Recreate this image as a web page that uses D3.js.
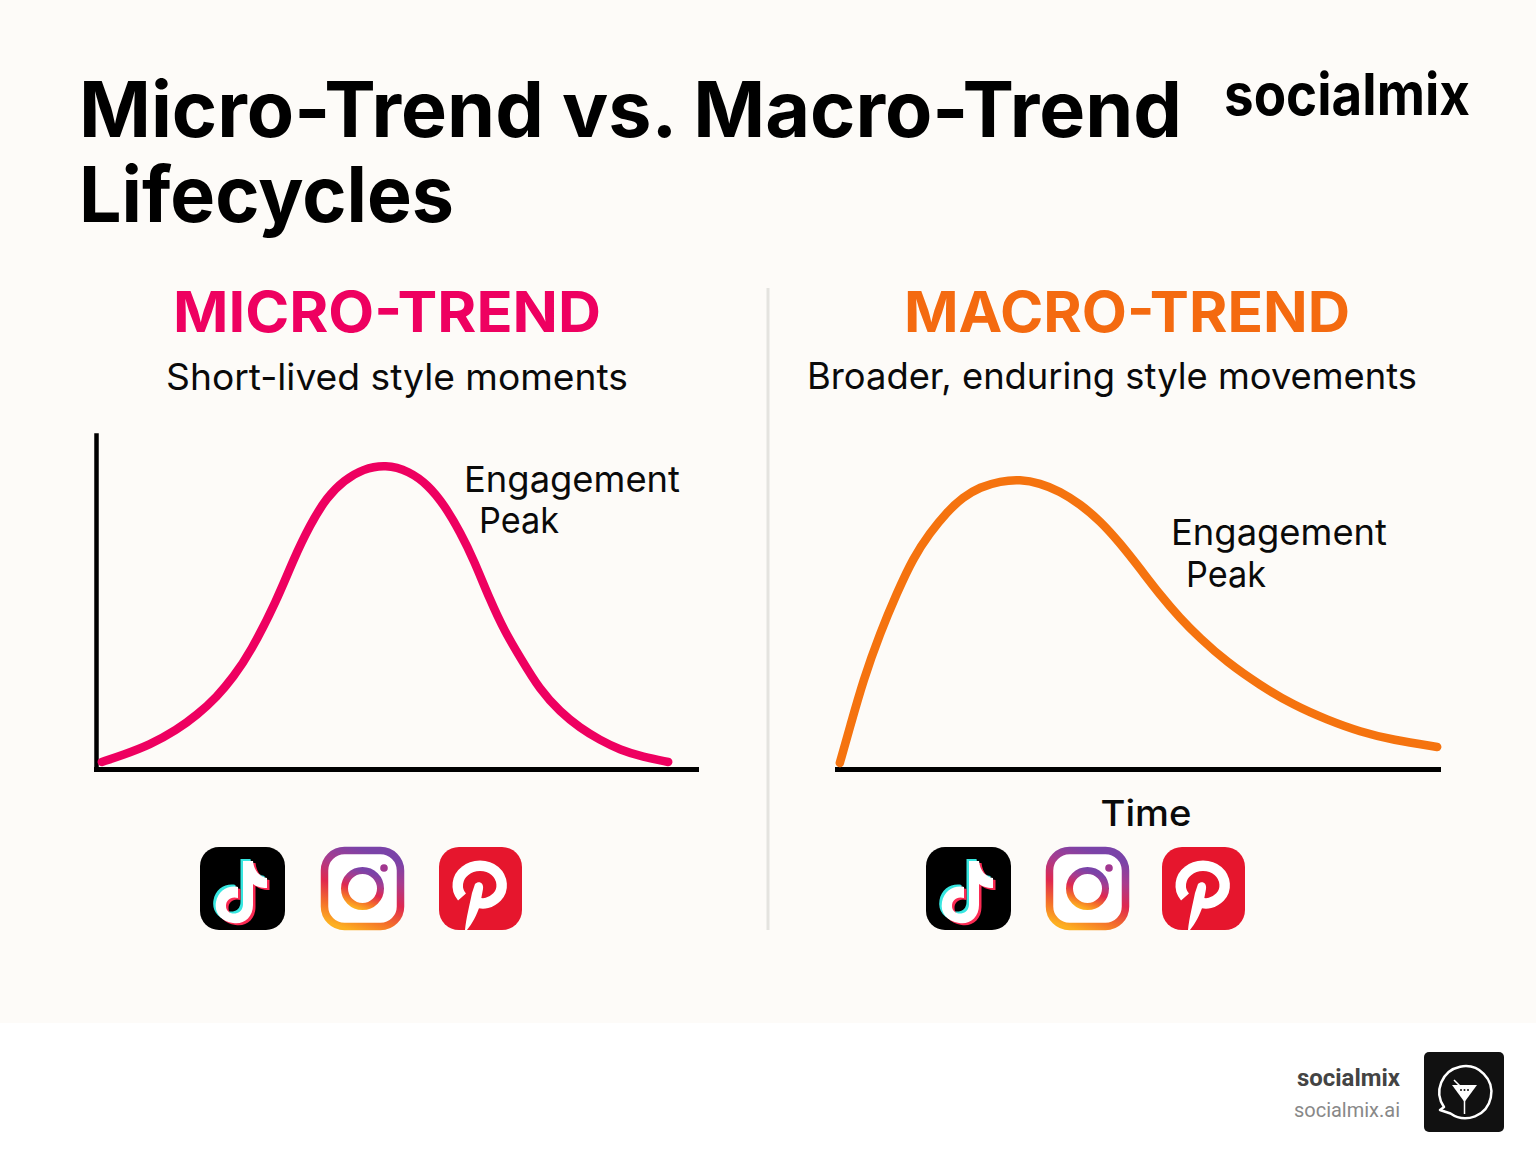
<!DOCTYPE html>
<html><head><meta charset="utf-8">
<script src="https://cdnjs.cloudflare.com/ajax/libs/d3/7.8.5/d3.min.js"></script>
<style>html,body{margin:0;padding:0;background:#fff}svg{display:block}text{font-family:Inter,sans-serif}</style>
</head><body><div id="c"></div>
<script>
const microTime=[0.8,4.3,8.8,13.3,16.7,20,22.7,25.5,30,32.7,35.5,38.3,41.2,44.3,48.1,52,55.2,57.9,60.6,62.8,65.5,68,70.5,73.8,77.2,80.5,83.8,87.2,91,95.2];
const microEngagement=[2.1,4.2,7.2,11.7,16.2,21.6,27.5,34.7,50.6,62.6,73.1,81.4,86.5,89.8,91.2,89.2,85,79,70.7,62.6,50.6,41,33.5,23.7,17.1,12.3,8.7,5.7,3.6,2.1];
const macroTime=[0.3,2,4.2,7,9.8,12.5,15.3,18.1,20.8,23.6,27,30.3,33.6,36.9,40.3,43.6,46.9,50.3,53.6,56.9,60.2,64.7,70.2,75.7,81.4,86.9,92.3,99.7];
const macroEngagement=[1.8,12.6,26.6,40.7,52.7,63.2,70.7,76.9,81.4,84.4,86.2,86.7,85.6,83.2,79.3,74.3,67.7,59.9,52.1,45.2,39.2,32,25.1,19.2,14.7,11.1,8.7,6.6];
const titleLines=["Micro-Trend vs. Macro-Trend","Lifecycles"];
const panelNames=["MICRO-TREND","MACRO-TREND"];
const panelSubs=["Short-lived style moments","Broader, enduring style movements"];
const peakLabel=["Engagement","Peak"];

const svg=d3.select("#c").append("svg").attr("width",1536).attr("height",1154);
svg.append("rect").attr("width",1536).attr("height",1023).attr("fill","#fdfbf8");
const defs=svg.append("defs");
const ig=defs.append("linearGradient").attr("id","ig").attr("x1",0.2).attr("y1",1).attr("x2",0.55).attr("y2",0);
[[0,"#fdb021"],[0.22,"#f4702a"],[0.48,"#e0284f"],[0.75,"#a93c8e"],[1,"#7a43a8"]].forEach(d=>ig.append("stop").attr("offset",d[0]).attr("stop-color",d[1]));

function text(x,y,s,size,weight,fill,anchor){
  return svg.append("text").attr("x",x).attr("y",y).text(s).attr("font-size",size).attr("font-weight",weight).attr("fill",fill).attr("text-anchor",anchor||"start");
}
text(79,137,titleLines[0],77,700,"#000").attr("textLength",1103).attr("lengthAdjust","spacingAndGlyphs");
text(79,222,titleLines[1],77,700,"#000").attr("textLength",375).attr("lengthAdjust","spacingAndGlyphs");
text(1224,115,"socialmix",58,700,"#000").attr("textLength",246).attr("lengthAdjust","spacingAndGlyphs");

text(387,332,panelNames[0],57,700,"#ee0060","middle").attr("textLength",428).attr("lengthAdjust","spacingAndGlyphs");
text(1127,332,panelNames[1],57,700,"#f46a10","middle").attr("textLength",446).attr("lengthAdjust","spacingAndGlyphs");
text(397,390,panelSubs[0],37,400,"#0a0a0a","middle").attr("textLength",462).attr("lengthAdjust","spacingAndGlyphs");
text(1112,389,panelSubs[1],37,400,"#0a0a0a","middle").attr("textLength",610).attr("lengthAdjust","spacingAndGlyphs");

svg.append("line").attr("x1",768).attr("x2",768).attr("y1",288).attr("y2",930).attr("stroke","#e4e3df").attr("stroke-width",3);

const x1=d3.scaleLinear().domain([0,100]).range([97,697]);
const x2=d3.scaleLinear().domain([0,100]).range([838,1439]);
const y=d3.scaleLinear().domain([0,100]).range([769,435]);
const axisStyle=w=>g=>{g.selectAll(".tick").remove();g.select(".domain").attr("stroke","#000").attr("stroke-width",w).attr("stroke-linecap","square");};
svg.append("g").attr("transform","translate(-1,769)").call(d3.axisBottom(x1).tickSize(0)).call(axisStyle(5));
svg.append("g").attr("transform","translate(96,0)").call(d3.axisLeft(y).tickSize(0)).call(axisStyle(4.5));
svg.append("g").attr("transform","translate(-1,769)").call(d3.axisBottom(x2).tickSize(0)).call(axisStyle(5));

function curve(ts,vs,x,color){
  const l=d3.line().x(i=>x(ts[i])).y(i=>y(vs[i])).curve(d3.curveBasis);
  svg.append("path").attr("d",l(d3.range(ts.length))).attr("fill","none").attr("stroke",color).attr("stroke-width",8.5).attr("stroke-linecap","round").attr("stroke-linejoin","round");
}
curve(microTime,microEngagement,x1,"#ee0060");
curve(macroTime,macroEngagement,x2,"#f5730f");

text(464,492,peakLabel[0],36,400,"#0a0a0a").attr("textLength",216).attr("lengthAdjust","spacingAndGlyphs");
text(479,533,peakLabel[1],36,400,"#0a0a0a").attr("textLength",80).attr("lengthAdjust","spacingAndGlyphs");
text(1171,545,peakLabel[0],36,400,"#0a0a0a").attr("textLength",216).attr("lengthAdjust","spacingAndGlyphs");
text(1186,587,peakLabel[1],36,400,"#0a0a0a").attr("textLength",80).attr("lengthAdjust","spacingAndGlyphs");
text(1146,826,"Time",36,500,"#0a0a0a","middle").attr("textLength",91).attr("lengthAdjust","spacingAndGlyphs");

function tiktok(g){
  g.append("rect").attr("width",85).attr("height",83).attr("rx",19).attr("fill","#000");
  const note="M43 14 L53 14 C54 24 60 30 67 31 L67 41 C60 41 56 39 53 37 L53 58 C53 71 43 78 33 76 C21 74 14 66 16 55 C18 44 28 38 38 40 L38 51 C31 49 26 53 26 59 C26 65 32 68 37 66 C41 65 43 61 43 57 Z";
  g.append("path").attr("d",note).attr("fill","#37e6e0").attr("transform","translate(-2.5,-2)");
  g.append("path").attr("d",note).attr("fill","#fb2a53").attr("transform","translate(2.5,2)");
  g.append("path").attr("d",note).attr("fill","#fff");
}
function insta(g){
  g.append("rect").attr("x",3.5).attr("y",3.5).attr("width",76).attr("height",76).attr("rx",20).attr("fill","#fff").attr("stroke","url(#ig)").attr("stroke-width",7.5);
  g.append("circle").attr("cx",41.5).attr("cy",41.5).attr("r",18).attr("fill","none").attr("stroke","url(#ig)").attr("stroke-width",7);
  g.append("circle").attr("cx",63).attr("cy",21).attr("r",3.8).attr("fill","#a1378f");
}
function pin(g){
  g.append("rect").attr("width",83).attr("height",83).attr("rx",20).attr("fill","#e6162d");
  g.append("path").attr("d","M23 50 C16 42 18 30 26 24 C34 17 48 17 56 24 C64 31 65 43 58 50 C52 56 44 58 38 55").attr("fill","none").attr("stroke","#fff").attr("stroke-width",10.5);
  g.append("path").attr("d","M36 37 C40 33 45 36 44 42 L41 58 C38 68 33 77 28 83 L26 83 C27 72 31 56 33 46 Z").attr("fill","#fff");
}
[[200,847,tiktok],[321,847,insta],[439,847,pin],[926,847,tiktok],[1046,847,insta],[1162,847,pin]].forEach(d=>{
  d[2](svg.append("g").attr("transform",`translate(${d[0]},${d[1]})`));
});

svg.append("text").attr("x",1297).attr("y",1086).text("socialmix").attr("font-size",24).attr("font-weight",700).attr("fill","#444").style("font-family","Roboto").attr("textLength",103).attr("lengthAdjust","spacingAndGlyphs");
svg.append("text").attr("x",1294).attr("y",1117).text("socialmix.ai").attr("font-size",20.5).attr("fill","#888").style("font-family","Roboto").attr("textLength",106).attr("lengthAdjust","spacingAndGlyphs");
const lg=svg.append("g").attr("transform","translate(1424,1052)");
lg.append("rect").attr("width",80).attr("height",80).attr("rx",5).attr("fill","#111");
lg.append("path").attr("d","M20 55 A26 26 0 1 1 26.5 61.5 L16 58 Z").attr("fill","none").attr("stroke","#fff").attr("stroke-width",2.5).attr("stroke-linejoin","round");
lg.append("path").attr("d","M28 33 L53 33 L40.5 50 Z").attr("fill","#fff");
lg.append("path").attr("d","M40.5 48 V62 M30 28 L37 35").attr("stroke","#fff").attr("stroke-width",1.5).attr("fill","none");
lg.selectAll("circle.d").data([37,40.5,44]).join("circle").attr("cx",d=>d).attr("cy",38).attr("r",1).attr("fill","#111");
</script></body></html>
